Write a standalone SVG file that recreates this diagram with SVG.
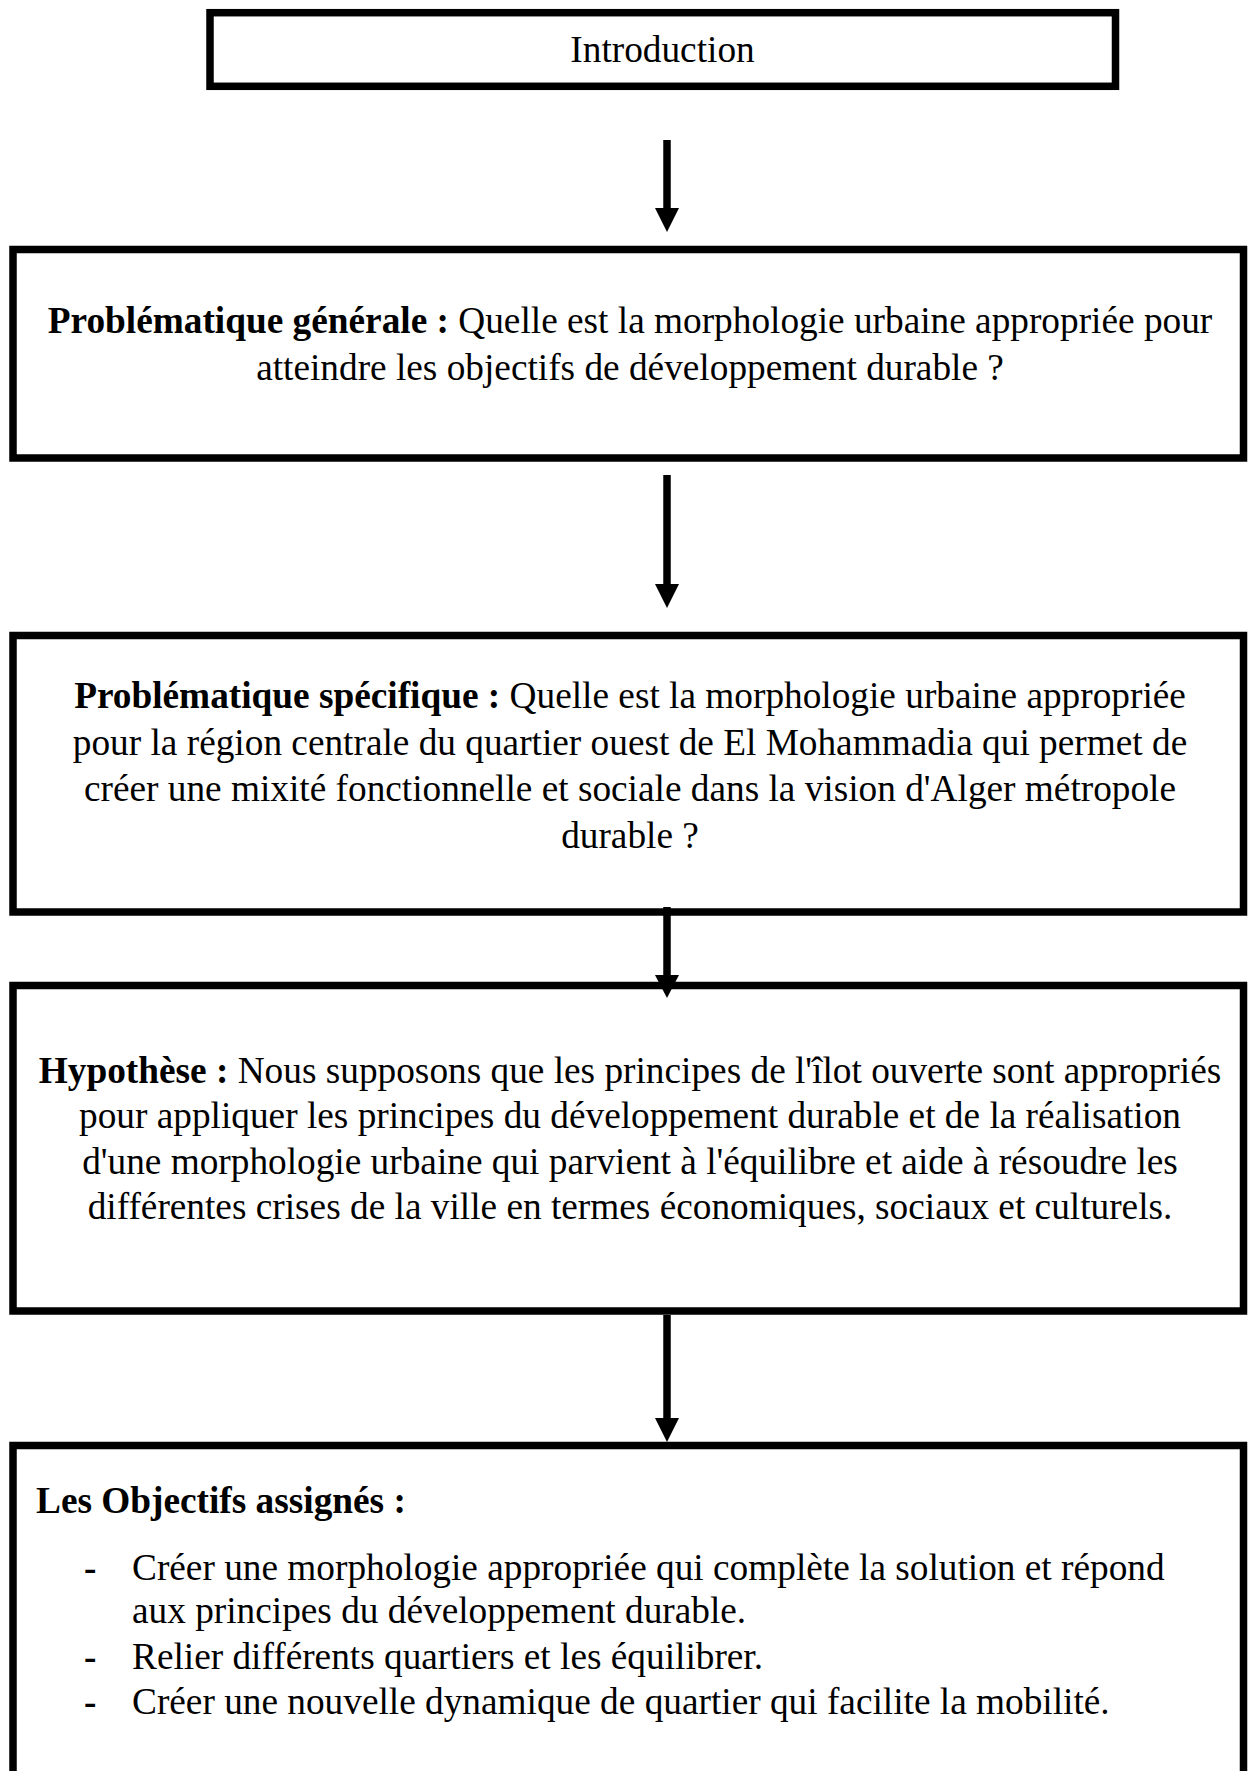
<svg xmlns="http://www.w3.org/2000/svg" width="1249" height="1771" viewBox="0 0 1249 1771">
  <style>
    .box { fill: #ffffff; stroke: #000000; stroke-width: 7.5; }
    .txt { font-family: "Liberation Serif", "Times New Roman", serif; font-size: 37.3px; fill: #000000; }
    .c { text-anchor: middle; }
    .b { font-weight: bold; }
    .shaft { stroke: #000000; stroke-width: 7.5; fill: none; }
    .head { fill: #000000; }
  </style>
  <rect x="0" y="0" width="1249" height="1771" fill="#ffffff"/>

  <!-- Boxes -->
  <g id="introduction">
    <rect class="box" x="210" y="12.7" width="905.5" height="73.6"/>
    <text class="txt c" x="662.5" y="61.5">Introduction</text>
  </g>

  <g id="problematique-generale">
    <rect class="box" x="13" y="249.5" width="1230.5" height="208.5"/>
    <text class="txt c" x="630" y="333">
      <tspan class="b">Problématique générale :</tspan> Quelle est la morphologie urbaine appropriée pour</text>
    <text class="txt c" x="630" y="380">atteindre les objectifs de développement durable ?</text>
  </g>

  <g id="problematique-specifique">
    <rect class="box" x="13" y="635.5" width="1230.5" height="276.5"/>
    <text class="txt c" x="630" y="708">
      <tspan class="b">Problématique spécifique :</tspan> Quelle est la morphologie urbaine appropriée</text>
    <text class="txt c" x="630" y="755">pour la région centrale du quartier ouest de El Mohammadia qui permet de</text>
    <text class="txt c" x="630" y="801">créer une mixité fonctionnelle et sociale dans la vision d'Alger métropole</text>
    <text class="txt c" x="630" y="848">durable ?</text>
  </g>

  <g id="hypothese">
    <rect class="box" x="13" y="985.5" width="1230.5" height="325.5"/>
    <text class="txt c" x="630" y="1082.5">
      <tspan class="b">Hypothèse :</tspan> Nous supposons que les principes de l'îlot ouverte sont appropriés</text>
    <text class="txt c" x="630" y="1128">pour appliquer les principes du développement durable et de la réalisation</text>
    <text class="txt c" x="630" y="1173.5">d'une morphologie urbaine qui parvient à l'équilibre et aide à résoudre les</text>
    <text class="txt c" x="630" y="1219">différentes crises de la ville en termes économiques, sociaux et culturels.</text>
  </g>

  <g id="objectifs">
    <rect class="box" x="13" y="1445.5" width="1230.5" height="360"/>
    <text class="txt b" x="36" y="1513">Les Objectifs assignés :</text>
    <text class="txt b" x="84" y="1580">-</text>
    <text class="txt" x="132" y="1580">Créer une morphologie appropriée qui complète la solution et répond</text>
    <text class="txt" x="132" y="1623">aux principes du développement durable.</text>
    <text class="txt b" x="84" y="1669">-</text>
    <text class="txt" x="132" y="1669">Relier différents quartiers et les équilibrer.</text>
    <text class="txt b" x="84" y="1714">-</text>
    <text class="txt" x="132" y="1714">Créer une nouvelle dynamique de quartier qui facilite la mobilité.</text>
  </g>

  <!-- Connectors -->
  <g id="connectors">
    <line class="shaft" x1="667" y1="140" x2="667" y2="212"/>
    <polygon class="head" points="655,208 679,208 667,232"/>

    <line class="shaft" x1="667" y1="475" x2="667" y2="588"/>
    <polygon class="head" points="655,584 679,584 667,608"/>

    <line class="shaft" x1="667" y1="907" x2="667" y2="978"/>
    <polygon class="head" points="655,975 679,975 667,998"/>

    <line class="shaft" x1="667" y1="1315" x2="667" y2="1422"/>
    <polygon class="head" points="655,1418 679,1418 667,1442"/>
  </g>
</svg>
